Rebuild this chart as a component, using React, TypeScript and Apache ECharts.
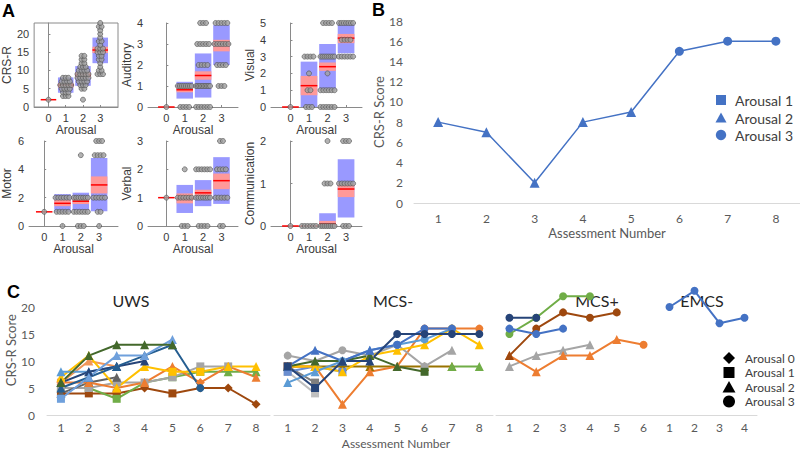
import React, { useEffect, useRef } from "react";
import * as echarts from "echarts";

const FONT_A = "Liberation Sans, Arial, sans-serif";
const FONT_BC = "Lato, 'Open Sans', sans-serif";

// ---------------- Panel A data ----------------
const arousalTicks = [0, 1, 2, 3];
// each stats row: [arousal, sdLow, sdHigh, semLow, semHigh, mean]
const crsrStats = [[0, 2, 2, 2, 2, 2], [1, 3.9, 8.1, 5.3, 6.6, 6.0], [2, 5.8, 11.2, 8.0, 9.5, 8.7], [3, 12, 19, 14.8, 16.5, 15.6]];
const crsrPoints = [
  [2],
  [3, 3, 3, 4, 4, 4, 5, 5, 5, 5, 6, 6, 6, 6, 6, 7, 7, 7, 7, 8, 8, 8],
  [2, 5, 5, 6, 6, 6, 7, 7, 7, 7, 8, 8, 8, 8, 8, 9, 9, 9, 9, 9, 10, 10, 10, 10, 11, 11, 11, 12, 12, 13, 13, 14, 14],
  [9, 9, 9, 10, 10, 11, 12, 13, 13, 14, 14, 15, 15, 15, 16, 16, 16, 17, 18, 18, 19, 20, 21, 22, 22, 23],
];
const auditoryStats = [[0, 0, 0, 0, 0, 0], [1, 0.4, 1.2, 0.7, 0.95, 0.82], [2, 0.45, 2.55, 1.3, 1.7, 1.5], [3, 2.0, 3.9, 2.65, 3.2, 3.0]];
const auditoryPoints = [
  [0],
  [0, 0, 0, 0, 1, 1, 1, 1, 1, 1, 1, 1],
  [0, 0, 0, 0, 0, 0, 1, 1, 1, 1, 1, 1, 1, 1, 1, 1, 2, 2, 2, 2, 3, 3, 3, 3, 3, 4, 4, 4],
  [1, 1, 1, 2, 2, 2, 2, 3, 3, 3, 3, 3, 3, 4, 4, 4, 4, 4],
];
const visualStats = [[0, 0, 0, 0, 0, 0], [1, 0, 2.7, 0.7, 1.85, 1.27], [2, 1.05, 3.75, 2.15, 2.65, 2.4], [3, 3.2, 5.0, 3.8, 4.35, 4.1]];
const visualPoints = [
  [0],
  [0, 0, 0, 1, 1, 2, 3, 3, 3, 3],
  [0, 0, 0, 0, 0, 0, 1, 1, 1, 1, 1, 1, 2, 3, 3, 3, 3, 3, 3, 3, 3, 5, 5, 5, 5],
  [3, 3, 3, 3, 3, 3, 4, 4, 4, 4, 5, 5, 5, 5, 5, 5, 5],
];
const motorStats = [[0, 1, 1, 1, 1, 1], [1, 1.0, 2.25, 1.4, 1.85, 1.6], [2, 1.1, 2.35, 1.55, 1.95, 1.75], [3, 1.05, 4.8, 2.3, 3.5, 2.9]];
const motorPoints = [
  [1],
  [0, 1, 1, 1, 1, 1, 2, 2, 2, 2, 2, 2],
  [0, 0, 0, 1, 1, 1, 1, 1, 1, 2, 2, 2, 2, 2, 2, 2, 5],
  [0, 1, 1, 2, 2, 2, 2, 2, 5, 5, 5, 5, 6, 6, 6],
];
const verbalStats = [[0, 1, 1, 1, 1, 1], [1, 0.46, 1.45, 0.8, 1.15, 0.97], [2, 0.7, 1.62, 1.05, 1.28, 1.17], [3, 0.78, 2.43, 1.3, 1.85, 1.6]];
const verbalPoints = [
  [1],
  [0, 0, 0, 1, 1, 1, 1, 1, 1, 2],
  [0, 0, 0, 0, 1, 1, 1, 1, 1, 1, 1, 2, 2, 2, 2, 2, 2],
  [0, 0, 1, 1, 1, 1, 1, 2, 2, 2, 2, 3, 3],
];
const commStats = [[0, 0, 0, 0, 0, 0], [1, 0, 0, 0, 0, 0], [2, 0, 0.3, 0, 0.12, 0.05], [3, 0.2, 1.57, 0.68, 1.0, 0.87]];
const commPoints = [
  [0],
  [0, 0, 0, 0, 0, 0],
  [0, 0, 0, 0, 0, 0, 0, 0, 1, 1, 1, 2],
  [0, 0, 0, 1, 1, 1, 1, 1, 1, 2, 2, 2],
];
const aNames = ["CRS-R", "Auditory", "Visual", "Motor", "Verbal", "Communication"];
const aMax = [23, 4, 5, 6, 3, 2];
const aTicks = [[0, 5, 10, 15, 20], [0, 1, 2, 3, 4], [0, 1, 2, 3, 4, 5], [0, 2, 4, 6], [0, 1, 2, 3], [0, 1, 2]];
const aStats = [crsrStats, auditoryStats, visualStats, motorStats, verbalStats, commStats];
const aPoints = [crsrPoints, auditoryPoints, visualPoints, motorPoints, verbalPoints, commPoints];

// layout for panel A
const aColLeft = [29, 148, 271];
const aColWidth = [89, 90, 91];
const aXMin = [-0.83, -1.0, -1.05];
const aXMax = [4.03, 3.9, 3.86];
const aRowTop = [23, 141];
const aRowHeight = [84, 85];
const aNameGap = [19, 14, 9, 16, 13, 13];

// ---------------- Panel B data ----------------
const bCategories = ["1", "2", "3", "4", "5", "6", "7", "8"];
const bValues = [8, 7, 2, 8, 9, 15, 16, 16];
const bArousal = [2, 2, 2, 2, 2, 3, 3, 3];

// ---------------- Panel C data ----------------
const uwsCats = ["1", "2", "3", "4", "5", "6", "7", "8"];
const mcsMinusCats = ["1", "2", "3", "4", "5", "6", "7", "8"];
const mcsPlusCats = ["1", "2", "3", "4", "5", "6"];
const emcsCats = ["1", "2", "3", "4"];
const cHeadings = ["UWS", "MCS-", "MCS+", "EMCS"];

const uwsBrown = [4, 4, 4, 5, 4, 5, 5, 2];
const uwsBrownA = [1, 1, 1, 0, 1, 0, 0, 0];
const uwsDarkGreen = [6, 11, 13, 13, 13];
const uwsDarkGreenA = [2, 2, 2, 2, 2];
const uwsLightBlue = [3, 7, 11, 11, 14];
const uwsLightBlueA = [1, 2, 2, 2, 2];
const uwsBlue = [8, 8, 9];
const uwsBlueA = [2, 2, 2];
const uwsNavy = [6, 8, 9, 10];
const uwsNavyA = [2, 2, 2, 2];
const uwsSteel = [5, 7, 9, 11, 13, 5];
const uwsSteelA = [2, 2, 2, 2, 2, 3];
const uwsSalmon = [6, 10, 9];
const uwsSalmonA = [1, 2, 2];
const uwsOrange = [6, 6, 5, 6, 9, 6, 9, 7];
const uwsOrangeA = [0, 2, 2, 2, 2, 0, 2, 2];
const uwsYellow = [7, 11, 5, 9, 8, 8, 9, 9];
const uwsYellowA = [2, 2, 2, 2, 1, 1, 2, 2];
const uwsGray = [5, 5, 6, 6, 7, 9, 9];
const uwsGrayA = [1, 1, 1, 1, 1, 1, 1];
const uwsDarkGray = [4, 6, 7];
const uwsDarkGrayA = [2, 2, 2];
const uwsGreen = [5, 5, 3, 6, 7, 8, 8, 8];
const uwsGreenA = [1, 1, 1, 2, 1, 1, 2, 2];

const mmNavy = [9, 5, 10, 10, 15, 15, 15, 15];
const mmNavyA = [1, 1, 2, 2, 3, 3, 3, 3];
const mmBlue = [9, 12, 10, 12, 13, 16, 16];
const mmBlueA = [2, 2, 2, 2, 3, 3, 3];
const mmGray = [11, 10, 12, 11, 13, 9, 12];
const mmGrayA = [3, 2, 3, 3, 3, 3, 2];
const mmSilver = [8, 4];
const mmSilverA = [1, 1];
const mmDarkGray = [9, 6];
const mmDarkGrayA = [1, 1];
const mmDarkGreen = [9, 10, 10, 11, 9, 8];
const mmDarkGreenA = [2, 2, 2, 2, 2, 1];
const mmLightBlue = [6, 8, 10, 12, 13, 14, 16];
const mmLightBlueA = [2, 2, 3, 2, 3, 3, 3];
const mmCorn = [8, 9, 8];
const mmCornA = [1, 2, 1];
const mmOrange = [9, 9, 2, 8, 9, 16, 16, 16];
const mmOrangeA = [1, 2, 2, 2, 2, 3, 3, 3];
const mmYellow = [9, 9, 8, 11, 12, 13, 16, 13];
const mmYellowA = [2, 2, 2, 2, 2, 2, 3, 2];
const mmOlive = [9, 9, 9, 9, 9, 9, 9];
const mmOliveA = [2, 2, 2, 2, 2, 2, 2];
const mmGreen = [null, null, null, null, null, null, 9, 9];
const mmGreenA = [2, 2, 2, 2, 2, 2, 2, 2];

const mpNavy = [18, 18];
const mpNavyA = [3, 3];
const mpBlue = [16, 15, 16];
const mpBlueA = [3, 3, 3];
const mpGreen = [15, 18, 22, 22];
const mpGreenA = [3, 3, 3, 3];
const mpBrown = [11, 16, 19, 18, 19];
const mpBrownA = [2, 3, 3, 3, 3];
const mpGray = [9, 11, 12, 13];
const mpGrayA = [2, 2, 2, 2];
const mpOrange = [11, 8, 11, 11, 14, 13];
const mpOrangeA = [2, 2, 2, 2, 2, 3];

const emcsBlue = [20, 23, 17, 18];
const emcsBlueA = [3, 3, 3, 3];

const cLegendLabels = ["Arousal 0", "Arousal 1", "Arousal 2", "Arousal 3"];
const bLegendLabels = ["Arousal 1", "Arousal 2", "Arousal 3"];

const SYM = ["diamond", "rect", "triangle", "circle"];
const SYM_SIZE = [9, 8, 9, 8];

function jitter(groups: number[][]): number[][] {
  const out: number[][] = [];
  groups.forEach((vals, g) => {
    const counts = new Map<number, number>();
    vals.forEach((v) => counts.set(v, (counts.get(v) || 0) + 1));
    const seen = new Map<number, number>();
    vals.forEach((v) => {
      const n = counts.get(v)!;
      const i = seen.get(v) || 0;
      seen.set(v, i + 1);
      const span = Math.min(0.76, 0.16 * (n - 1));
      const off = n === 1 ? 0 : -span / 2 + (span * i) / (n - 1);
      out.push([g + off, v]);
    });
  });
  return out;
}

function buildOption() {
  const grid: any[] = [];
  const xAxis: any[] = [];
  const yAxis: any[] = [];
  const series: any[] = [];

  // ---- Panel A ----
  for (let k = 0; k < 6; k++) {
    const row = Math.floor(k / 3);
    const col = k % 3;
    grid.push({
      left: aColLeft[col],
      top: aRowTop[row],
      width: aColWidth[col],
      height: aRowHeight[row],
      show: k === 0,
      borderColor: "#8a8a8a",
      borderWidth: 1,
      backgroundColor: "transparent",
    });
    xAxis.push({
      gridIndex: k,
      type: "value",
      min: aXMin[col],
      max: aXMax[col],
      axisLine: { lineStyle: { color: "#8a8a8a" } },
      axisTick: { inside: true, length: 2, customValues: arousalTicks, lineStyle: { color: "#8a8a8a" } },
      axisLabel: { customValues: arousalTicks, fontSize: 11, color: "#3a3a3a", margin: 5, fontFamily: FONT_A },
      splitLine: { show: false },
      name: "Arousal",
      nameLocation: "middle",
      nameGap: 17,
      nameTextStyle: { fontSize: 12, color: "#3a3a3a", fontFamily: FONT_A },
    });
    yAxis.push({
      gridIndex: k,
      type: "value",
      min: 0,
      max: aMax[k],
      axisLine: { show: true, lineStyle: { color: "#8a8a8a" } },
      axisTick: { show: true, inside: true, length: 2, customValues: aTicks[k], lineStyle: { color: "#8a8a8a" } },
      axisLabel: { customValues: aTicks[k], fontSize: 11, color: "#3a3a3a", margin: 5, fontFamily: FONT_A },
      splitLine: { show: false },
      name: aNames[k],
      nameLocation: "middle",
      nameGap: aNameGap[k],
      nameTextStyle: { fontSize: 12, color: "#3a3a3a", fontFamily: FONT_A },
    });
    series.push({
      type: "custom",
      xAxisIndex: k,
      yAxisIndex: k,
      data: aStats[k],
      encode: { x: 0, y: [1, 2] },
      z: 1,
      renderItem: (params: any, api: any) => {
        const x = api.value(0);
        const hw = 0.45;
        const bl = api.value(1), bh = api.value(2), pl = api.value(3), ph = api.value(4), m = api.value(5);
        const children: any[] = [];
        const rect = (lo: number, hi: number, color: string) => {
          const p1 = api.coord([x - hw, hi]);
          const p2 = api.coord([x + hw, lo]);
          return {
            type: "rect",
            shape: { x: p1[0], y: p1[1], width: p2[0] - p1[0], height: p2[1] - p1[1] },
            style: { fill: color },
          };
        };
        if (bh > bl) children.push(rect(bl, bh, "#9999ff"));
        if (ph > pl) children.push(rect(pl, ph, "#ff9999"));
        const a = api.coord([x - hw, m]);
        const b = api.coord([x + hw, m]);
        children.push({
          type: "line",
          shape: { x1: a[0], y1: a[1], x2: b[0], y2: b[1] },
          style: { stroke: "#ff0000", lineWidth: 1.5 },
        });
        return { type: "group", children };
      },
    });
    series.push({
      type: "scatter",
      xAxisIndex: k,
      yAxisIndex: k,
      data: jitter(aPoints[k]),
      symbolSize: 5,
      clip: false,
      z: 3,
      itemStyle: { color: "#a0a0a0", borderColor: "#505050", borderWidth: 0.8 },
    });
  }

  // ---- Panel B ----
  grid.push({ left: 414, top: 21, width: 386, height: 182 });
  xAxis.push({
    gridIndex: 6,
    type: "category",
    data: bCategories,
    axisLine: { lineStyle: { color: "#d9d9d9" } },
    axisTick: { show: false },
    axisLabel: { color: "#595959", fontSize: 12, margin: 9, fontFamily: FONT_BC },
    name: "Assessment Number",
    nameLocation: "middle",
    nameGap: 23,
    nameTextStyle: { color: "#595959", fontSize: 13, fontFamily: FONT_BC },
  });
  yAxis.push({
    gridIndex: 6,
    type: "value",
    min: 0,
    max: 18,
    interval: 2,
    axisLine: { show: false },
    axisTick: { show: false },
    splitLine: { show: false },
    axisLabel: { color: "#595959", fontSize: 12, margin: 11, fontFamily: FONT_BC },
    name: "CRS-R Score",
    nameLocation: "middle",
    nameGap: 24,
    nameTextStyle: { color: "#595959", fontSize: 13, fontFamily: FONT_BC },
  });
  series.push({
    type: "line",
    xAxisIndex: 6,
    yAxisIndex: 6,
    data: bValues.map((v, i) => ({ value: v, symbol: SYM[bArousal[i]], symbolSize: bArousal[i] === 2 ? 10 : 9 })),
    lineStyle: { color: "#4472C4", width: 1.5 },
    itemStyle: { color: "#4472C4" },
  });

  // ---- Panel C ----
  const cGrids = [
    { left: 47, width: 223, cats: uwsCats },
    { left: 274, width: 219, cats: mcsMinusCats },
    { left: 496, width: 161, cats: mcsPlusCats },
    { left: 657, width: 100, cats: emcsCats },
  ];
  cGrids.forEach((g, i) => {
    const gi = 7 + i;
    grid.push({ left: g.left, width: g.width, top: 285.4, height: 129.6 });
    xAxis.push({
      gridIndex: gi,
      type: "category",
      data: g.cats,
      axisLine: { lineStyle: { color: "#d9d9d9" } },
      axisTick: { show: false },
      axisLabel: { color: "#595959", fontSize: 12, margin: 6, fontFamily: FONT_BC },
    });
    yAxis.push({
      gridIndex: gi,
      type: "value",
      min: 0,
      max: 24,
      show: i === 0,
      axisLine: { show: false },
      axisTick: { show: false },
      splitLine: { show: false },
      axisLabel: { customValues: [0, 5, 10, 15, 20], color: "#595959", fontSize: 12, margin: 12, fontFamily: FONT_BC },
      name: "CRS-R Score",
      nameLocation: "middle",
      nameGap: 26,
      nameTextStyle: { color: "#595959", fontSize: 13, fontFamily: FONT_BC },
    });
  });
  const cLine = (gi: number, values: (number | null)[], ar: number[], color: string) => ({
    type: "line",
    xAxisIndex: gi,
    yAxisIndex: gi,
    data: values.map((v, i) => (v == null ? null : { value: v, symbol: SYM[ar[i]], symbolSize: SYM_SIZE[ar[i]] })),
    lineStyle: { color, width: 2 },
    itemStyle: { color },
    connectNulls: false,
  });
  series.push(
    cLine(7, uwsBrown, uwsBrownA, "#9E480E"),
    cLine(7, uwsGreen, uwsGreenA, "#70AD47"),
    cLine(7, uwsGray, uwsGrayA, "#A5A5A5"),
    cLine(7, uwsDarkGray, uwsDarkGrayA, "#636363"),
    cLine(7, uwsOrange, uwsOrangeA, "#ED7D31"),
    cLine(7, uwsSalmon, uwsSalmonA, "#F1975A"),
    cLine(7, uwsYellow, uwsYellowA, "#FFC000"),
    cLine(7, uwsBlue, uwsBlueA, "#5B9BD5"),
    cLine(7, uwsNavy, uwsNavyA, "#264478"),
    cLine(7, uwsSteel, uwsSteelA, "#255E91"),
    cLine(7, uwsLightBlue, uwsLightBlueA, "#6FA0DC"),
    cLine(7, uwsDarkGreen, uwsDarkGreenA, "#43682B"),

    cLine(8, mmOlive, mmOliveA, "#997300"),
    cLine(8, mmGreen, mmGreenA, "#70AD47"),
    cLine(8, mmSilver, mmSilverA, "#BFBFBF"),
    cLine(8, mmDarkGray, mmDarkGrayA, "#7F7F7F"),
    cLine(8, mmCorn, mmCornA, "#698ED0"),
    cLine(8, mmOrange, mmOrangeA, "#ED7D31"),
    cLine(8, mmGray, mmGrayA, "#A5A5A5"),
    cLine(8, mmYellow, mmYellowA, "#FFC000"),
    cLine(8, mmLightBlue, mmLightBlueA, "#5B9BD5"),
    cLine(8, mmDarkGreen, mmDarkGreenA, "#43682B"),
    cLine(8, mmBlue, mmBlueA, "#4472C4"),
    cLine(8, mmNavy, mmNavyA, "#264478"),

    cLine(9, mpGray, mpGrayA, "#A5A5A5"),
    cLine(9, mpOrange, mpOrangeA, "#ED7D31"),
    cLine(9, mpBrown, mpBrownA, "#9E480E"),
    cLine(9, mpGreen, mpGreenA, "#70AD47"),
    cLine(9, mpBlue, mpBlueA, "#4472C4"),
    cLine(9, mpNavy, mpNavyA, "#264478"),

    cLine(10, emcsBlue, emcsBlueA, "#4472C4")
  );

  // ---- graphic: panel letters, headings, legends ----
  const graphic: any[] = [
    { type: "text", left: 2, top: 2, style: { text: "A", fontSize: 18, fontWeight: "bold", fill: "#000", fontFamily: FONT_A } },
    { type: "text", left: 372, top: 1, style: { text: "B", fontSize: 18, fontWeight: "bold", fill: "#000", fontFamily: FONT_A } },
    { type: "text", left: 7, top: 283, style: { text: "C", fontSize: 18, fontWeight: "bold", fill: "#000", fontFamily: FONT_A } },
    { type: "text", x: 396, y: 443, style: { text: "Assessment Number", fontSize: 12, fill: "#595959", fontFamily: FONT_BC, align: "center", verticalAlign: "middle" } },
  ];
  const headX = [131, 393, 597, 702];
  cHeadings.forEach((h, i) =>
    graphic.push({ type: "text", x: headX[i], y: 300, style: { text: h, fontSize: 16, fill: "#262626", fontFamily: FONT_BC, align: "center", verticalAlign: "middle" } })
  );
  // legend B
  const bLegY = [100, 118, 135];
  const bc = "#4472C4";
  graphic.push({ type: "rect", shape: { x: 716, y: bLegY[0] - 5, width: 10, height: 10 }, style: { fill: bc } });
  graphic.push({ type: "polygon", shape: { points: [[721, bLegY[1] - 5.5], [726.5, bLegY[1] + 4.5], [715.5, bLegY[1] + 4.5]] }, style: { fill: bc } });
  graphic.push({ type: "circle", shape: { cx: 721, cy: bLegY[2], r: 5.2 }, style: { fill: bc } });
  bLegendLabels.forEach((t, i) =>
    graphic.push({ type: "text", x: 735, y: bLegY[i], style: { text: t, fontSize: 14, lineHeight: 16, fill: "#404040", fontFamily: FONT_BC, verticalAlign: "middle" } })
  );
  // legend C
  const cLegY = [358, 372.5, 387, 401.5];
  const lx = 729;
  graphic.push({ type: "polygon", shape: { points: [[lx, cLegY[0] - 6], [lx + 6, cLegY[0]], [lx, cLegY[0] + 6], [lx - 6, cLegY[0]]] }, style: { fill: "#000" } });
  graphic.push({ type: "rect", shape: { x: lx - 5.5, y: cLegY[1] - 5.5, width: 11, height: 11 }, style: { fill: "#000" } });
  graphic.push({ type: "polygon", shape: { points: [[lx, cLegY[2] - 6], [lx + 6.5, cLegY[2] + 5.5], [lx - 6.5, cLegY[2] + 5.5]] }, style: { fill: "#000" } });
  graphic.push({ type: "circle", shape: { cx: lx, cy: cLegY[3], r: 6 }, style: { fill: "#000" } });
  cLegendLabels.forEach((t, i) =>
    graphic.push({ type: "text", x: 745, y: cLegY[i], style: { text: t, fontSize: 12, lineHeight: 13, fill: "#404040", fontFamily: FONT_BC, verticalAlign: "middle" } })
  );

  return {
    animation: false,
    backgroundColor: "#ffffff",
    grid,
    xAxis,
    yAxis,
    series,
    graphic,
  };
}

export default function App() {
  const ref = useRef<HTMLDivElement>(null);
  useEffect(() => {
    const chart = echarts.init(ref.current!, null, { renderer: "svg" });
    chart.setOption(buildOption() as any);
    return () => chart.dispose();
  }, []);
  return <div ref={ref} style={{ position: "absolute", left: 0, top: 0, width: 800, height: 449 }} />;
}
